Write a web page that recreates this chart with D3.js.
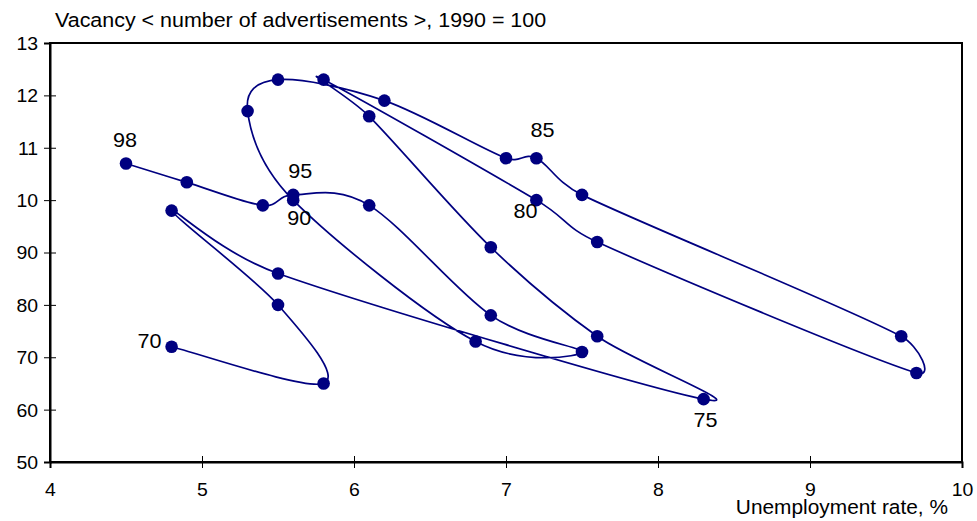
<!DOCTYPE html>
<html>
<head>
<meta charset="utf-8">
<script src="https://cdn.jsdelivr.net/npm/d3@7"></script>
<style>
  html, body { margin: 0; padding: 0; background: #fff; }
  svg { display: block; font-family: "Liberation Sans", Arial, sans-serif; }
</style>
</head>
<body>
<div id="chart"></div>
<script>
// Beveridge curve, 1970-1998
const years = [
  1970, 1971, 1972, 1973, 1974, 1975, 1976, 1977, 1978, 1979,
  1980, 1981, 1982, 1983, 1984, 1985, 1986, 1987, 1988, 1989,
  1990, 1991, 1992, 1993, 1994, 1995, 1996, 1997, 1998
]
const unemployment = [
  4.8, 5.8, 5.5, 4.8, 5.5, 8.3, 7.6, 6.9, 6.1, 5.8,
  7.2, 7.6, 9.7, 9.6, 7.5, 7.2, 7.0, 6.2, 5.5, 5.3,
  5.6, 6.8, 7.5, 6.9, 6.1, 5.6, 5.4, 4.9, 4.5
]
const vacancy = [
  72, 65, 80, 98, 86, 62, 74, 91, 116, 123,
  100, 92, 67, 74, 101, 108, 108, 119, 123, 117,
  100, 73, 71, 78, 99, 101, 99, 103.4, 107
]
const labelledYears = [1970, 1975, 1980, 1985, 1990, 1995, 1998]
const xTicks = [4, 5, 6, 7, 8, 9, 10]
const yTicks = [50, 60, 70, 80, 90, 100, 110, 120, 130]
const yTickLabels = ['50', '60', '70', '80', '90', '10', '11', '12', '13']

const title = 'Vacancy < number of advertisements >, 1990 = 100'
const xTitle = 'Unemployment rate, %'

const width = 977, height = 521
const margin = { top: 43, right: 15, bottom: 59, left: 50 }
const innerW = width - margin.left - margin.right
const innerH = height - margin.top - margin.bottom
const navy = '#000080'
const stretch = 1.08 // the source chart's text is a little wide

const svg = d3.select('#chart').append('svg')
  .attr('width', width)
  .attr('height', height)

const g = svg.append('g')
  .attr('transform', `translate(${margin.left},${margin.top})`)

const x = d3.scaleLinear().domain([4, 10]).range([0, innerW])
const y = d3.scaleLinear().domain([50, 130]).range([innerH, 0])

// plot frame
g.append('rect')
  .attr('x', 0).attr('y', 0)
  .attr('width', innerW).attr('height', innerH)
  .attr('fill', 'none')
  .attr('stroke', '#000')
  .attr('stroke-width', 2)

// axes (ticks cross the axis line)
const xAxis = g.append('g')
  .attr('transform', `translate(0,${innerH})`)
  .call(d3.axisBottom(x).tickValues(xTicks).tickFormat(d3.format('d')).tickSize(6).tickPadding(15))
xAxis.selectAll('.tick line').attr('y1', -6)

const yAxis = g.append('g')
  .call(d3.axisLeft(y).tickValues(yTicks).tickFormat((d, i) => yTickLabels[i]).tickSize(6).tickPadding(5))
yAxis.selectAll('.tick line').attr('x1', 6).attr('x2', -6)

;[xAxis, yAxis].forEach(a => {
  a.select('.domain').attr('stroke', '#000').attr('stroke-width', 2)
  a.selectAll('.tick line').attr('stroke', '#000').attr('stroke-width', 1)
  a.selectAll('text').attr('fill', '#000').attr('font-size', 18)
    .attr('font-family', '"Liberation Sans", Arial, sans-serif')
    .attr('transform', `scale(${stretch},1)`)
})
yAxis.selectAll('text').attr('dy', '0.36em')

// titles
svg.append('text')
  .attr('transform', `translate(55,27) scale(1.1,1)`)
  .attr('font-size', 19.5)
  .attr('fill', '#000')
  .text(title)

svg.append('text')
  .attr('transform', `translate(948,514) scale(1.07,1)`)
  .attr('text-anchor', 'end')
  .attr('font-size', 19.5)
  .attr('fill', '#000')
  .text(xTitle)

// series
const points = years.map((yr, i) => ({ year: yr, u: unemployment[i], v: vacancy[i] }))
const px = points.map(d => [x(d.u), y(d.v)])

// Excel-style smoothed line: Bezier arms of 1/6 of the neighbour chord,
// never longer than half of the segment they sit on
function smoothPath(pts) {
  const p = d3.path()
  const n = pts.length
  const arm = (a, b, len) => {
    let dx = (b[0] - a[0]) / 6, dy = (b[1] - a[1]) / 6
    const l = Math.hypot(dx, dy)
    if (l > len) { dx *= len / l; dy *= len / l }
    return [dx, dy]
  }
  p.moveTo(pts[0][0], pts[0][1])
  for (let i = 0; i < n - 1; i++) {
    const p0 = pts[Math.max(i - 1, 0)], p1 = pts[i], p2 = pts[i + 1], p3 = pts[Math.min(i + 2, n - 1)]
    const seg = Math.hypot(p2[0] - p1[0], p2[1] - p1[1])
    const a1 = arm(p0, p2, seg * 0.5)
    const a2 = arm(p1, p3, seg * 0.5)
    p.bezierCurveTo(p1[0] + a1[0], p1[1] + a1[1], p2[0] - a2[0], p2[1] - a2[1], p2[0], p2[1])
  }
  return p.toString()
}

g.append('path')
  .attr('d', smoothPath(px))
  .attr('fill', 'none')
  .attr('stroke', navy)
  .attr('stroke-width', 1.7)

g.selectAll('circle.pt')
  .data(points)
  .join('circle')
  .attr('class', 'pt')
  .attr('cx', d => x(d.u))
  .attr('cy', d => y(d.v))
  .attr('r', 6.3)
  .attr('fill', navy)

// year labels (two-digit), placed around their point
const placement = {
  1970: [-22, 1], 1975: [2, 28], 1980: [-11, 18], 1985: [6, -21],
  1990: [6, 25], 1995: [7, -17], 1998: [-1, -16]
}
g.selectAll('text.yr')
  .data(points.filter(d => labelledYears.includes(d.year)))
  .join('text')
  .attr('class', 'yr')
  .attr('transform', d => `translate(${x(d.u) + placement[d.year][0]},${y(d.v) + placement[d.year][1]}) scale(${stretch},1)`)
  .attr('text-anchor', 'middle')
  .attr('font-size', 20)
  .attr('fill', '#000')
  .text(d => String(d.year).slice(2))
</script>
</body>
</html>
